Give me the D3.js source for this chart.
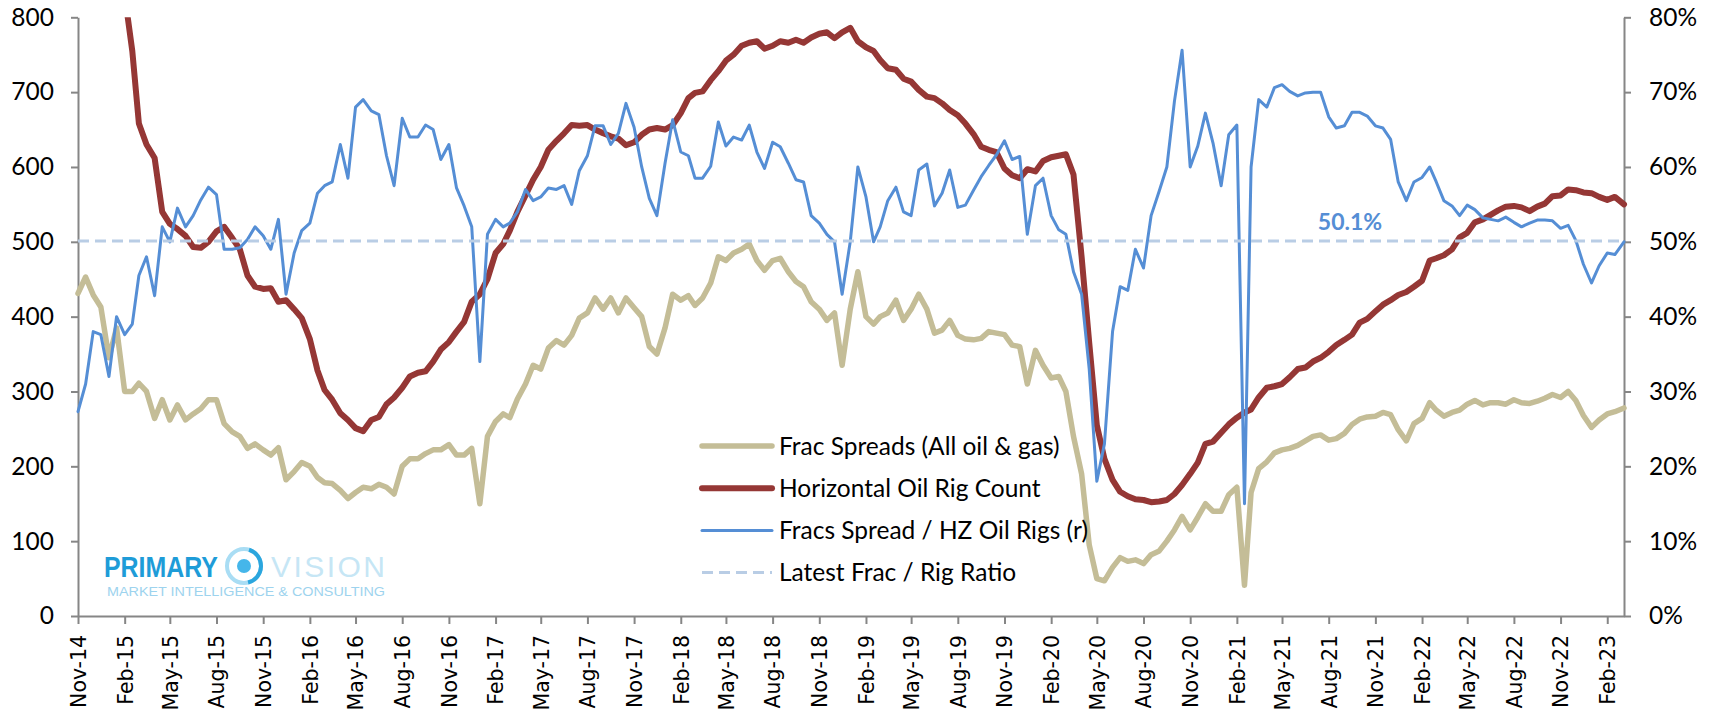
<!DOCTYPE html>
<html><head><meta charset="utf-8">
<script src="https://cdn.jsdelivr.net/npm/d3@7"></script>
<style>body{margin:0;background:#fff;} svg{display:block}</style>
</head><body><svg id="chart" width="1713" height="717"></svg>
<script>
// ---------- DATA ----------
const dates = [
"2014-11-01","2014-11-16","2014-12-01","2014-12-16",
"2015-01-01","2015-01-16","2015-02-01","2015-02-16","2015-03-01","2015-03-16","2015-04-01","2015-04-16","2015-05-01","2015-05-16","2015-06-01","2015-06-16","2015-07-01","2015-07-16","2015-08-01","2015-08-16","2015-09-01","2015-09-16","2015-10-01","2015-10-16","2015-11-01","2015-11-16","2015-12-01","2015-12-16",
"2016-01-01","2016-01-16","2016-02-01","2016-02-16","2016-03-01","2016-03-16","2016-04-01","2016-04-16","2016-05-01","2016-05-16","2016-06-01","2016-06-16","2016-07-01","2016-07-16","2016-08-01","2016-08-16","2016-09-01","2016-09-16","2016-10-01","2016-10-16","2016-11-01","2016-11-16","2016-12-01","2016-12-16",
"2017-01-01","2017-01-16","2017-02-01","2017-02-16","2017-03-01","2017-03-16","2017-04-01","2017-04-16","2017-05-01","2017-05-16","2017-06-01","2017-06-16","2017-07-01","2017-07-16","2017-08-01","2017-08-16","2017-09-01","2017-09-16","2017-10-01","2017-10-16","2017-11-01","2017-11-16","2017-12-01","2017-12-16",
"2018-01-01","2018-01-16","2018-02-01","2018-02-16","2018-03-01","2018-03-16","2018-04-01","2018-04-16","2018-05-01","2018-05-16","2018-06-01","2018-06-16","2018-07-01","2018-07-16","2018-08-01","2018-08-16","2018-09-01","2018-09-16","2018-10-01","2018-10-16","2018-11-01","2018-11-16","2018-12-01","2018-12-16",
"2019-01-01","2019-01-16","2019-02-01","2019-02-16","2019-03-01","2019-03-16","2019-04-01","2019-04-16","2019-05-01","2019-05-16","2019-06-01","2019-06-16","2019-07-01","2019-07-16","2019-08-01","2019-08-16","2019-09-01","2019-09-16","2019-10-01","2019-10-16","2019-11-01","2019-11-16","2019-12-01","2019-12-16",
"2020-01-01","2020-01-16","2020-02-01","2020-02-16","2020-03-01","2020-03-16","2020-04-01","2020-04-16","2020-05-01","2020-05-16","2020-06-01","2020-06-16","2020-07-01","2020-07-16","2020-08-01","2020-08-16","2020-09-01","2020-09-16","2020-10-01","2020-10-16","2020-11-01","2020-11-16","2020-12-01","2020-12-16",
"2021-01-01","2021-01-16","2021-02-01","2021-02-16","2021-03-01","2021-03-16","2021-04-01","2021-04-16","2021-05-01","2021-05-16","2021-06-01","2021-06-16","2021-07-01","2021-07-16","2021-08-01","2021-08-16","2021-09-01","2021-09-16","2021-10-01","2021-10-16","2021-11-01","2021-11-16","2021-12-01","2021-12-16",
"2022-01-01","2022-01-16","2022-02-01","2022-02-16","2022-03-01","2022-03-16","2022-04-01","2022-04-16","2022-05-01","2022-05-16","2022-06-01","2022-06-16","2022-07-01","2022-07-16","2022-08-01","2022-08-16","2022-09-01","2022-09-16","2022-10-01","2022-10-16","2022-11-01","2022-11-16","2022-12-01","2022-12-16",
"2023-01-01","2023-01-16","2023-02-01","2023-02-16","2023-03-06"
];

// Frac Spreads (All oil & gas) - left axis
const fracSpreads = [
431,453,429,413,
345,385,300,300,311,300,264,289,262,282,262,270,277,289,289,257,246,240,224,230,222,215,225,182,
193,205,200,185,178,177,168,157,165,172,170,176,172,163,200,210,210,217,222,222,229,215,215,224,
150,240,260,270,265,290,310,335,330,358,368,362,375,398,405,425,410,425,405,425,412,400,360,350,
385,430,422,428,415,425,445,480,475,485,490,497,475,462,475,478,460,447,440,420,410,395,405,335,
410,460,400,390,400,405,422,395,410,430,410,378,382,395,375,370,369,371,380,378,376,362,360,310,
355,335,318,320,300,240,190,95,50,47,65,78,73,75,70,82,87,100,115,133,115,132,150,140,
140,162,172,41,165,197,206,218,222,224,228,234,240,242,235,237,244,256,263,266,267,272,269,249,
234,257,264,285,275,267,272,275,283,288,282,285,285,283,289,285,284,287,291,296,292,300,288,268,
252,262,270,273,278
];

// Horizontal Oil Rig Count - left axis
const hzOilRigs = [
1200,1150,1120,1100,
1070,960,830,755,658,630,612,540,524,517,508,493,492,500,514,520,505,490,455,440,437,438,420,422,
410,398,370,328,302,289,271,262,251,247,262,266,283,292,305,320,325,327,340,356,366,380,393,420,
430,450,485,497,515,540,562,583,600,623,635,645,656,655,656,650,645,641,638,629,633,643,650,652,
650,656,672,692,699,701,716,728,742,750,762,766,768,758,762,768,766,770,766,773,778,780,772,780,
786,768,760,755,743,732,730,718,714,703,694,692,685,676,669,658,644,627,623,620,598,589,585,597,
594,608,613,615,617,590,480,365,255,210,182,166,160,156,155,152,153,155,163,175,190,205,230,233,
245,256,265,272,276,292,305,307,310,319,330,332,340,345,353,362,369,376,392,397,407,416,422,429,
433,440,448,475,478,482,490,506,512,526,530,536,542,547,548,546,541,547,551,561,562,570,569,566,
565,560,556,560,550
];

// Fracs Spread / HZ Oil Rigs (%) - right axis
const fracRigRatio = [
27.3,31,38,37.6,
32,40,37.6,39,45.5,48,42.8,52,50,54.5,52,53.5,55.6,57.3,56.3,49,49,49.2,50.3,52,50.8,49,53,43,
48.5,51.5,52.5,56.5,57.5,58,63,58.5,68,69,67.5,67,61.5,57.5,66.5,64,64,65.6,65,61,63,57.2,54.8,52,
34,51,53,52,52.5,54,57,55.5,56,57.2,57,57.5,55,59.5,61.5,65.5,65.5,63,64.5,68.5,65.3,60,55.8,53.5,
60.5,66.3,62,61.5,58.5,58.5,60.1,66,62.8,64,63.6,65.6,62,59.8,63.3,62.7,60.5,58.3,58,53.5,52.5,51,50,43,
50,60,56,50,52,55.5,57.3,54,53.5,59.6,60.4,54.8,56.5,59.6,54.6,54.9,56.9,58.7,60.2,61.6,63.5,61,61.4,51,
57.5,58.5,53.5,51.6,51,46,43,33,18,23,38,44,43.5,49,46.5,53.5,56.8,60,68.8,75.6,60,62.8,67.2,63.2,
57.5,64.3,65.6,15,60,69,68,70.6,71,70.1,69.5,69.9,70,70,66.7,65.2,65.5,67.3,67.3,66.8,65.5,65.2,63.7,58,
55.5,58,58.6,60,58,55.5,54.8,53.5,54.9,54.3,53.2,53,52.8,53.3,52.6,52,52.5,52.9,52.9,52.8,51.8,52.2,50.2,47,
44.5,46.8,48.5,48.3,50
];

const latestRatio = 50.1;

const tickLabels = ["Nov-14","Feb-15","May-15","Aug-15","Nov-15","Feb-16","May-16","Aug-16","Nov-16","Feb-17","May-17","Aug-17","Nov-17","Feb-18","May-18","Aug-18","Nov-18","Feb-19","May-19","Aug-19","Nov-19","Feb-20","May-20","Aug-20","Nov-20","Feb-21","May-21","Aug-21","Nov-21","Feb-22","May-22","Aug-22","Nov-22","Feb-23"];
const leftTicks = [0,100,200,300,400,500,600,700,800];
const rightTicks = [0,10,20,30,40,50,60,70,80];
const seriesNames = ["Frac Spreads (All oil & gas)","Horizontal Oil Rig Count","Fracs Spread / HZ Oil Rigs (r)","Latest Frac / Rig Ratio"];

// ---------- LAYOUT ----------
const W = 1713, H = 717;
const L = 78, R = 1624, T = 17.3, B = 616;
const colors = {frac:"#C4BD97", rig:"#953735", ratio:"#558ED5", latest:"#B9CDE5", axis:"#868686"};
const labelFont = "Lato, 'Open Sans', sans-serif";

const parse = d3.timeParse("%Y-%m-%d");
const parseTick = d3.timeParse("%b-%y");
const dt = dates.map(parse);

const x = d3.scaleTime().domain([dt[0], dt[dt.length-1]]).range([L, R]);
const yL = d3.scaleLinear().domain([0, 800]).range([B, T]);
const yR = d3.scaleLinear().domain([0, 80]).range([B, T]);

const svg = d3.select("#chart");
svg.append("rect").attr("width", W).attr("height", H).attr("fill", "#fff");

svg.append("defs").append("clipPath").attr("id","plotclip")
  .append("rect").attr("x", 0).attr("y", T).attr("width", W).attr("height", H - T);

// ---------- LOGO ----------
const logo = svg.append("g");
logo.append("text").attr("x", 104).attr("y", 577).text("PRIMARY")
  .attr("font-family","'Liberation Sans', Arial, sans-serif").attr("font-weight","bold")
  .attr("font-size", 30).attr("fill","#1E9CD8")
  .attr("textLength", 114).attr("lengthAdjust","spacingAndGlyphs");
logo.append("circle").attr("cx", 244).attr("cy", 566).attr("r", 17)
  .attr("fill","none").attr("stroke","#A9DDF4").attr("stroke-width", 4);
logo.append("path")
  .attr("d", d3.arc()({innerRadius:15, outerRadius:19, startAngle:0.3, endAngle:2.9}))
  .attr("transform","translate(244,566)").attr("fill","#2BA6DE");
logo.append("circle").attr("cx", 244).attr("cy", 566).attr("r", 7).attr("fill","#45B6EA");
logo.append("text").attr("x", 271).attr("y", 577).text("VISION")
  .attr("font-family","'Liberation Sans', Arial, sans-serif")
  .attr("font-size", 30).attr("fill","#C6E6F5")
  .attr("textLength", 114).attr("lengthAdjust","spacing");
logo.append("text").attr("x", 107).attr("y", 596).text("MARKET INTELLIGENCE & CONSULTING")
  .attr("font-family","'Liberation Sans', Arial, sans-serif")
  .attr("font-size", 13).attr("fill","#9DD3EE")
  .attr("textLength", 278).attr("lengthAdjust","spacingAndGlyphs");

// ---------- AXES ----------
function styleAxis(g){
  g.selectAll("path.domain").attr("stroke", colors.axis).attr("stroke-width", 2);
  g.selectAll(".tick line").attr("stroke", colors.axis).attr("stroke-width", 2);
  g.selectAll("text").attr("fill","#000");
}

const gL = svg.append("g").attr("transform", `translate(${L},0)`)
  .call(d3.axisLeft(yL).tickValues(leftTicks).tickSize(7).tickSizeOuter(0).tickPadding(17).tickFormat(d3.format("d")));
gL.attr("font-family", labelFont).attr("font-size", 24.5);
styleAxis(gL);

const gR = svg.append("g").attr("transform", `translate(${R},0)`)
  .call(d3.axisRight(yR).tickValues(rightTicks).tickSize(7).tickSizeOuter(0).tickPadding(18).tickFormat(d => d + "%"));
gR.attr("font-family", labelFont).attr("font-size", 24.5);
styleAxis(gR);

const gB = svg.append("g").attr("transform", `translate(0,${B})`)
  .call(d3.axisBottom(x).tickValues(tickLabels.map(parseTick)).tickSize(8).tickSizeOuter(0).tickFormat(d3.timeFormat("%b-%y")));
gB.attr("font-family", "'DejaVu Sans', sans-serif").attr("font-size", 20.5);
gB.selectAll(".tick text")
  .attr("transform","rotate(-90)")
  .attr("text-anchor","end")
  .attr("x", -19).attr("y", 0).attr("dy","0.36em");
styleAxis(gB);

// ---------- SERIES ----------
const plot = svg.append("g").attr("clip-path","url(#plotclip)");
const lineL = vals => d3.line().x((d,i) => x(dt[i])).y(d => yL(d))(vals);
const lineR = vals => d3.line().x((d,i) => x(dt[i])).y(d => yR(d))(vals);

plot.append("path").attr("d", lineL(fracSpreads)).attr("fill","none")
  .attr("stroke", colors.frac).attr("stroke-width", 5.5).attr("stroke-linejoin","round").attr("stroke-linecap","round");
plot.append("path").attr("d", lineL(hzOilRigs)).attr("fill","none")
  .attr("stroke", colors.rig).attr("stroke-width", 6).attr("stroke-linejoin","round").attr("stroke-linecap","round");
plot.append("path").attr("d", lineR(fracRigRatio)).attr("fill","none")
  .attr("stroke", colors.ratio).attr("stroke-width", 3).attr("stroke-linejoin","round").attr("stroke-linecap","round");
plot.append("path").attr("d", lineR(dt.map(() => latestRatio))).attr("fill","none")
  .attr("stroke", colors.latest).attr("stroke-width", 3).attr("stroke-dasharray","11,6");

// Latest value label
svg.append("text").attr("x", 1350).attr("y", yR(latestRatio) - 11)
  .attr("text-anchor","middle").attr("font-family", labelFont).attr("font-weight","bold")
  .attr("font-size", 23).attr("fill", colors.ratio).text(d3.format(".1f")(latestRatio) + "%");

// ---------- LEGEND ----------
const legendItems = [
  {name: seriesNames[0], color: colors.frac, w: 5.5, dash: null},
  {name: seriesNames[1], color: colors.rig, w: 6, dash: null},
  {name: seriesNames[2], color: colors.ratio, w: 3, dash: null},
  {name: seriesNames[3], color: colors.latest, w: 3, dash: "11,6"}
];
const lg = svg.append("g").attr("transform","translate(702,446)");
legendItems.forEach((it, i) => {
  const g = lg.append("g").attr("transform", `translate(0,${i*42.2})`);
  g.append("line").attr("x1", 0).attr("x2", 70).attr("y1", 0).attr("y2", 0)
    .attr("stroke", it.color).attr("stroke-width", it.w)
    .attr("stroke-dasharray", it.dash).attr("stroke-linecap", it.dash ? "butt" : "round");
  g.append("text").attr("x", 77).attr("y", 0).attr("dy","0.35em")
    .attr("font-family", labelFont).attr("font-size", 24.5).attr("fill","#000").text(it.name);
});
</script>
</body></html>
